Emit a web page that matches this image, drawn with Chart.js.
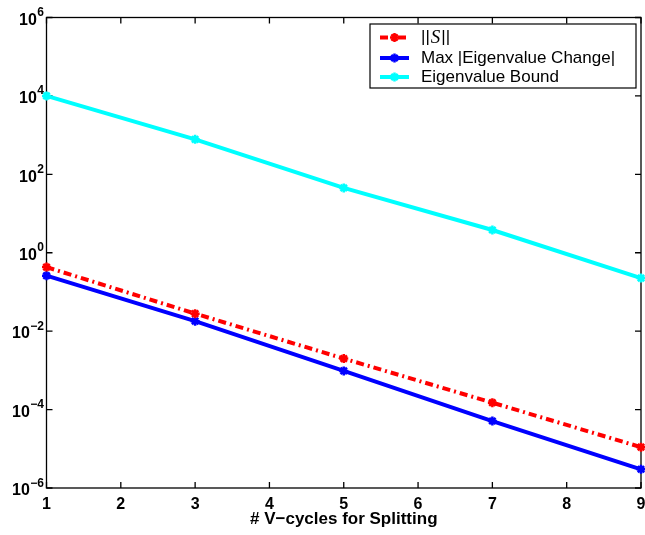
<!DOCTYPE html>
<html>
<head>
<meta charset="utf-8">
<script src="https://cdn.jsdelivr.net/npm/chart.js@4.4.0/dist/chart.umd.min.js"></script>
<style>
    html, body { margin: 0; padding: 0; background: #fff; }
    #wrap { width: 645px; height: 535px; position: relative; }
</style>
</head>
<body>
<div id="wrap"><canvas id="chart"></canvas></div>
<script>
// data
const vcycles = [1, 3, 5, 7, 9];
const normS = [0.43, 0.028, 0.0020, 1.5e-4, 1.1e-5];
const maxEigChange = [0.26, 0.018, 9.7e-4, 5.1e-5, 3.0e-6];
const eigBound = [1.0e4, 780, 45, 3.8, 0.226];

const seriesNames = ['||S||', 'Max |Eigenvalue Change|', 'Eigenvalue Bound'];
const seriesColors = ['#ff0000', '#0000ff', '#00ffff'];

const xTicks = [1, 2, 3, 4, 5, 6, 7, 8, 9];
const yTicks = [1e-6, 1e-4, 1e-2, 1, 1e2, 1e4, 1e6];
const yTickBase = '10';
const yTickExponents = ['\u22126', '\u22124', '\u22122', '0', '2', '4', '6'];

const RED_DASH = [8, 4, 2, 4];
const FONT = '"Liberation Sans", Arial, sans-serif';

function toPoints(ys) {
    return vcycles.map((v, i) => ({ x: v, y: ys[i] }));
}

// axes box with inward ticks, like the matlab frame
const framePlugin = {
    id: 'frame',
    beforeDatasetsDraw(chart) {
        const { ctx, chartArea: a, scales: { x, y } } = chart;
        ctx.save();
        ctx.strokeStyle = '#000';
        ctx.lineWidth = 1.3;
        ctx.strokeRect(a.left, a.top, a.right - a.left, a.bottom - a.top);
        ctx.beginPath();
        xTicks.forEach(v => {
            const px = x.getPixelForValue(v);
            ctx.moveTo(px, a.bottom); ctx.lineTo(px, a.bottom - 6);
            ctx.moveTo(px, a.top); ctx.lineTo(px, a.top + 6);
        });
        yTicks.forEach(v => {
            const py = y.getPixelForValue(v);
            ctx.moveTo(a.left, py); ctx.lineTo(a.left + 6, py);
            ctx.moveTo(a.right, py); ctx.lineTo(a.right - 6, py);
        });
        ctx.stroke();
        ctx.restore();
    }
};

// y tick labels as 10 with a raised exponent
const powerLabelsPlugin = {
    id: 'powerLabels',
    afterDraw(chart) {
        const { ctx, scales: { y } } = chart;
        const right = y.right - 2.5;
        ctx.save();
        ctx.fillStyle = '#000';
        ctx.textAlign = 'right';
        ctx.textBaseline = 'alphabetic';
        yTicks.forEach((v, i) => {
            const py = y.getPixelForValue(v);
            ctx.font = 'bold 12px ' + FONT;
            const ew = ctx.measureText(yTickExponents[i]).width;
            ctx.fillText(yTickExponents[i], right, py - 1.5);
            ctx.font = 'bold 16px ' + FONT;
            ctx.fillText(yTickBase, right - ew - 0.5, py + 7.3);
        });
        ctx.restore();
    }
};

// legend box in the top right corner
const legendPlugin = {
    id: 'boxLegend',
    afterDraw(chart) {
        const { ctx, chartArea: a } = chart;
        const boxRight = a.right - 5;
        const boxLeft = boxRight - 266;
        const boxTop = a.top + 6.5;
        const boxH = 64;
        ctx.save();
        ctx.fillStyle = '#fff';
        ctx.fillRect(boxLeft, boxTop, boxRight - boxLeft, boxH);
        ctx.strokeStyle = '#000';
        ctx.lineWidth = 1.2;
        ctx.strokeRect(boxLeft, boxTop, boxRight - boxLeft, boxH);

        const rows = [boxTop + 13.5, boxTop + 34, boxTop + 53];
        seriesNames.forEach((name, i) => {
            const yy = rows[i];
            ctx.strokeStyle = seriesColors[i];
            ctx.lineWidth = 4;
            ctx.setLineDash(i === 0 ? RED_DASH : []);
            ctx.beginPath();
            ctx.moveTo(boxLeft + 10, yy);
            ctx.lineTo(boxLeft + 39, yy);
            ctx.stroke();
            ctx.setLineDash([]);
            // marker
            ctx.lineWidth = 2.5;
            ctx.beginPath();
            const mx = boxLeft + 24.5, r = 4.5;
            ctx.moveTo(mx - r, yy); ctx.lineTo(mx + r, yy);
            ctx.moveTo(mx, yy - r); ctx.lineTo(mx, yy + r);
            ctx.moveTo(mx - r * 0.7, yy - r * 0.7); ctx.lineTo(mx + r * 0.7, yy + r * 0.7);
            ctx.moveTo(mx - r * 0.7, yy + r * 0.7); ctx.lineTo(mx + r * 0.7, yy - r * 0.7);
            ctx.stroke();

            ctx.fillStyle = '#000';
            ctx.textBaseline = 'middle';
            ctx.textAlign = 'left';
            let tx = boxLeft + 51;
            if (i === 0) {
                ctx.font = '17px ' + FONT;
                ctx.fillText('||', tx, yy);
                tx += ctx.measureText('||').width + 1;
                ctx.font = 'italic 19px "Liberation Serif"';
                ctx.fillText('S', tx, yy);
                tx += ctx.measureText('S').width + 1;
                ctx.font = '17px ' + FONT;
                ctx.fillText('||', tx, yy);
            } else {
                ctx.font = '17px ' + FONT;
                ctx.fillText(name, tx, yy);
            }
        });
        ctx.restore();
    }
};

const baseDataset = {
    borderWidth: 4,
    pointStyle: 'star',
    pointRadius: 4.5,
    pointBorderWidth: 2.5,
    pointHoverRadius: 4.5,
    fill: false,
    tension: 0,
    clip: false
};

const config = {
    type: 'line',
    data: {
        datasets: [
            Object.assign({}, baseDataset, {
                label: seriesNames[0],
                data: toPoints(normS),
                borderColor: seriesColors[0],
                backgroundColor: seriesColors[0],
                borderDash: RED_DASH
            }),
            Object.assign({}, baseDataset, {
                label: seriesNames[1],
                data: toPoints(maxEigChange),
                borderColor: seriesColors[1],
                backgroundColor: seriesColors[1]
            }),
            Object.assign({}, baseDataset, {
                label: seriesNames[2],
                data: toPoints(eigBound),
                borderColor: seriesColors[2],
                backgroundColor: seriesColors[2]
            })
        ]
    },
    options: {
        responsive: true,
        maintainAspectRatio: false,
        animation: false,
        layout: { autoPadding: false, padding: { top: 17.5, right: 4, left: 0, bottom: 0 } },
        scales: {
            x: {
                type: 'linear',
                min: 1,
                max: 9,
                grid: { display: false, drawTicks: false },
                border: { display: false },
                afterBuildTicks: scale => { scale.ticks = xTicks.map(v => ({ value: v })); },
                afterFit: scale => {
                    scale.height = 47;
                    scale.paddingLeft = 0;
                    scale.paddingRight = 0;
                },
                ticks: {
                    padding: 7,
                    color: '#000',
                    maxRotation: 0,
                    font: { family: FONT, size: 16, weight: 'bold' }
                },
                title: {
                    display: true,
                    text: '# V\u2212cycles for Splitting',
                    color: '#000',
                    padding: { top: 0, bottom: 5 },
                    font: { family: FONT, size: 17, weight: 'bold' }
                }
            },
            y: {
                type: 'logarithmic',
                min: 1e-6,
                max: 1e6,
                grid: { display: false, drawTicks: false },
                border: { display: false },
                afterBuildTicks: scale => { scale.ticks = yTicks.map(v => ({ value: v })); },
                afterFit: scale => {
                    scale.width = 46.5;
                    scale.paddingTop = 0;
                    scale.paddingBottom = 0;
                },
                ticks: { display: false }
            }
        },
        plugins: {
            legend: { display: false },
            tooltip: { enabled: false }
        }
    },
    plugins: [framePlugin, powerLabelsPlugin, legendPlugin]
};

new Chart(document.getElementById('chart'), config);
</script>
</body>
</html>
